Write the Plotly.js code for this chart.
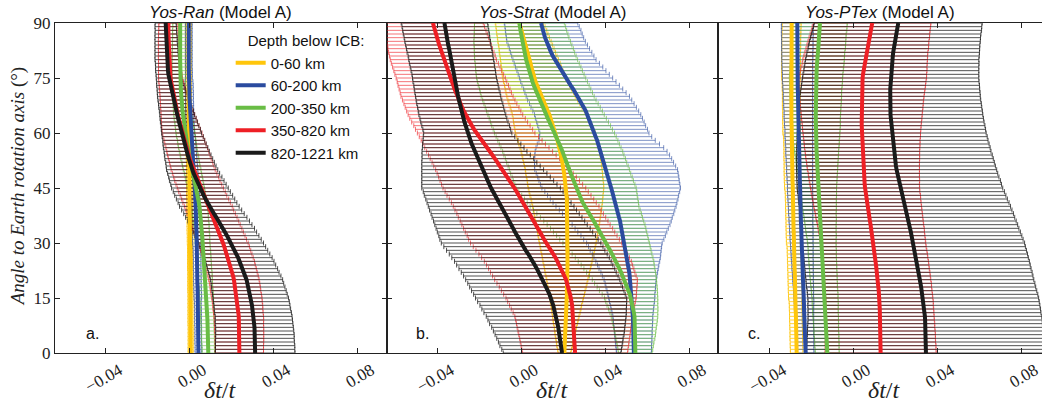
<!DOCTYPE html>
<html>
<head>
<meta charset="utf-8">
<script src="https://cdn.plot.ly/plotly-3.0.1.min.js"></script>
<style>html,body{margin:0;padding:0;background:#fff}#chart{width:1042px;height:410px}</style>
</head>
<body>
<div id="chart"></div>
<script>
// Angle to Earth rotation axis (degrees)
const angles = [0,1,2,3,4,5,6,7,8,9,10,11,12,13,14,15,16,17,18,19,20,21,22,23,24,25,26,27,28,29,30,31,32,33,34,35,36,37,38,39,40,41,42,43,44,45,46,47,48,49,50,51,52,53,54,55,56,57,58,59,60,61,62,63,64,65,66,67,68,69,70,71,72,73,74,75,76,77,78,79,80,81,82,83,84,85,86,87,88,89,90];

const depthGroups = ['0-60 km','60-200 km','200-350 km','350-820 km','820-1221 km'];
const panelTitles = ['<i>Yos-Ran</i> (Model A)','<i>Yos-Strat</i> (Model A)','<i>Yos-PTex</i> (Model A)'];
const panelLetters = ['a.','b.','c.'];
const xTickVals = [-0.04, 0, 0.04, 0.08];
const xTickText = ['\u22120.04','0.00','0.04','0.08'];
const yTickVals = [0,15,30,45,60,75,90];

// ---------- Yos-Ran (panel a): mean dt/t ----------
const ranMean0_60 = [.0006,.0006,.0006,.0006,.0006,.0006,.0006,.0006,.0005,.0005,
.0005,.0005,.0005,.0005,.0005,.0005,.0005,.0004,.0004,.0004,
.0004,.0004,.0004,.0003,.0003,.0003,.0003,.0003,.0003,.0003,
.0003,.0003,.0003,.0002,.0002,.0002,.0002,.0002,.0001,.0001,
.0001,.0001,.0001,0,0,0,0,0,-.0001,-.0001,
-.0001,-.0001,-.0001,-.0002,-.0002,-.0002,-.0002,-.0002,-.0003,-.0003,
-.0003,-.0003,-.0003,-.0003,-.0003,-.0003,-.0003,-.0003,-.0004,-.0004,
-.0004,-.0004,-.0004,-.0005,-.0005,-.0005,-.0005,-.0005,-.0005,-.0005,
-.0005,-.0005,-.0005,-.0005,-.0005,-.0005,-.0005,-.0005,-.0005,-.0005,-.0005];
const ranMean60_200 = [.0043,.0043,.0043,.0042,.0042,.0042,.0042,.0042,.0041,.0041,
.0041,.0041,.0041,.0040,.0040,.0040,.0040,.0039,.0039,.0038,
.0038,.0038,.0038,.0037,.0037,.0037,.0037,.0036,.0036,.0035,
.0035,.0035,.0034,.0034,.0033,.0033,.0032,.0032,.0031,.0031,
.0030,.0029,.0028,.0028,.0027,.0026,.0025,.0023,.0022,.0020,
.0019,.0018,.0016,.0015,.0013,.0012,.0011,.0010,.0008,.0007,
.0006,.0005,.0004,.0003,.0002,.0002,.0002,.0001,.0001,0,
0,0,-.0001,-.0001,-.0002,-.0002,-.0002,-.0002,-.0003,-.0003,
-.0003,-.0003,-.0003,-.0003,-.0003,-.0003,-.0003,-.0003,-.0003,-.0003,-.0003];
const ranMean200_350 = [.0090,.0090,.0089,.0089,.0088,.0088,.0087,.0087,.0086,.0086,
.0085,.0084,.0084,.0083,.0083,.0082,.0081,.0080,.0078,.0077,
.0076,.0075,.0074,.0072,.0071,.0070,.0069,.0067,.0066,.0064,
.0063,.0062,.0061,.0059,.0058,.0057,.0055,.0053,.0052,.0050,
.0048,.0045,.0042,.0038,.0035,.0032,.0028,.0024,.0021,.0017,
.0013,.0009,.0006,.0002,-.0001,-.0005,-.0008,-.0011,-.0013,-.0016,
-.0019,-.0021,-.0024,-.0026,-.0029,-.0031,-.0033,-.0034,-.0036,-.0037,
-.0039,-.0040,-.0041,-.0041,-.0042,-.0043,-.0043,-.0043,-.0044,-.0044,
-.0044,-.0044,-.0044,-.0044,-.0044,-.0044,-.0044,-.0044,-.0044,-.0044,-.0044];
const ranMean350_820 = [.0238,.0238,.0238,.0238,.0238,.0238,.0237,.0237,.0236,.0236,
.0235,.0233,.0231,.0230,.0228,.0226,.0223,.0220,.0218,.0215,
.0212,.0208,.0203,.0199,.0194,.0190,.0184,.0178,.0172,.0166,
.0160,.0153,.0146,.0139,.0132,.0125,.0118,.0111,.0104,.0097,
.0090,.0082,.0075,.0067,.0060,.0052,.0045,.0038,.0032,.0025,
.0018,.0013,.0008,.0002,-.0003,-.0008,-.0013,-.0019,-.0024,-.0030,
-.0035,-.0039,-.0043,-.0047,-.0051,-.0055,-.0059,-.0063,-.0067,-.0071,
-.0075,-.0078,-.0081,-.0084,-.0087,-.0090,-.0091,-.0093,-.0094,-.0096,
-.0097,-.0098,-.0098,-.0099,-.0099,-.0100,-.0100,-.0100,-.0100,-.0100,-.0100];
const ranMean820_1221 = [.0313,.0313,.0313,.0312,.0312,.0312,.0311,.0310,.0308,.0307,
.0306,.0303,.0300,.0298,.0295,.0292,.0288,.0284,.0280,.0276,
.0272,.0266,.0259,.0253,.0246,.0240,.0232,.0223,.0215,.0206,
.0198,.0188,.0179,.0169,.0160,.0150,.0139,.0128,.0117,.0106,
.0095,.0086,.0077,.0068,.0059,.0050,.0043,.0035,.0028,.0020,
.0013,.0008,.0003,-.0003,-.0008,-.0013,-.0018,-.0023,-.0027,-.0032,
-.0037,-.0041,-.0045,-.0050,-.0054,-.0058,-.0062,-.0067,-.0071,-.0076,
-.0080,-.0084,-.0087,-.0091,-.0094,-.0098,-.0100,-.0102,-.0103,-.0105,
-.0107,-.0108,-.0109,-.0109,-.0110,-.0111,-.0111,-.0112,-.0112,-.0113,-.0113];

// ---------- Yos-Ran (panel a): standard deviation ----------
const ranStd0_60 = [.0012,.0012,.0012,.0012,.0012,.0012,.0012,.0012,.0012,.0012,
.0012,.0012,.0012,.0012,.0012,.0012,.0012,.0012,.0012,.0012,
.0012,.0012,.0012,.0012,.0012,.0012,.0012,.0012,.0012,.0012,
.0013,.0013,.0013,.0013,.0013,.0013,.0013,.0013,.0013,.0013,
.0013,.0013,.0013,.0013,.0013,.0013,.0013,.0013,.0013,.0013,
.0013,.0013,.0013,.0013,.0013,.0013,.0013,.0013,.0013,.0013,
.0014,.0014,.0014,.0014,.0014,.0014,.0014,.0014,.0014,.0014,
.0014,.0014,.0014,.0014,.0014,.0014,.0014,.0014,.0014,.0014,
.0014,.0014,.0014,.0014,.0014,.0014,.0014,.0014,.0014,.0014,.0014];
const ranStd60_200 = [.0016,.0016,.0016,.0016,.0016,.0016,.0016,.0016,.0016,.0016,
.0016,.0016,.0016,.0016,.0016,.0018,.0018,.0018,.0018,.0018,
.0018,.0018,.0018,.0018,.0018,.0018,.0018,.0018,.0018,.0018,
.0021,.0021,.0021,.0021,.0021,.0021,.0021,.0021,.0021,.0021,
.0021,.0021,.0021,.0021,.0021,.0021,.0021,.0021,.0021,.0021,
.0021,.0021,.0021,.0021,.0021,.0021,.0021,.0021,.0021,.0021,
.0019,.0019,.0019,.0019,.0019,.0019,.0019,.0019,.0019,.0019,
.0019,.0019,.0019,.0019,.0019,.0016,.0016,.0016,.0016,.0016,
.0016,.0016,.0016,.0016,.0016,.0016,.0016,.0016,.0016,.0016,.0016];
const ranStd200_350 = [.0030,.0030,.0030,.0031,.0031,.0031,.0031,.0031,.0031,.0032,
.0032,.0032,.0032,.0032,.0032,.0033,.0033,.0033,.0033,.0033,
.0033,.0034,.0034,.0034,.0034,.0034,.0034,.0035,.0035,.0035,
.0035,.0035,.0036,.0036,.0036,.0037,.0037,.0037,.0038,.0038,
.0038,.0039,.0039,.0039,.0040,.0040,.0040,.0041,.0041,.0041,
.0042,.0042,.0042,.0043,.0043,.0043,.0044,.0044,.0044,.0045,
.0045,.0045,.0044,.0044,.0044,.0043,.0043,.0043,.0042,.0042,
.0042,.0041,.0041,.0041,.0040,.0040,.0040,.0039,.0039,.0039,
.0038,.0038,.0038,.0037,.0037,.0037,.0036,.0036,.0036,.0035,.0035];
const ranStd350_820 = [.0115,.0115,.0115,.0116,.0116,.0116,.0117,.0117,.0117,.0118,
.0118,.0118,.0119,.0119,.0119,.0120,.0120,.0120,.0120,.0120,
.0120,.0120,.0120,.0120,.0120,.0120,.0120,.0120,.0120,.0120,
.0120,.0119,.0119,.0118,.0118,.0117,.0117,.0116,.0115,.0114,
.0114,.0113,.0112,.0111,.0111,.0110,.0109,.0108,.0107,.0106,
.0105,.0104,.0103,.0102,.0101,.0100,.0099,.0098,.0097,.0096,
.0095,.0092,.0089,.0086,.0083,.0080,.0077,.0074,.0071,.0068,
.0065,.0063,.0062,.0060,.0059,.0057,.0056,.0054,.0053,.0051,
.0050,.0050,.0049,.0049,.0048,.0048,.0047,.0047,.0046,.0046,.0045];
const ranStd820_1221 = [.0190,.0189,.0189,.0188,.0187,.0187,.0186,.0185,.0185,.0184,
.0183,.0183,.0182,.0181,.0181,.0180,.0178,.0177,.0175,.0173,
.0172,.0170,.0168,.0167,.0165,.0163,.0162,.0160,.0158,.0157,
.0155,.0154,.0152,.0151,.0150,.0148,.0147,.0146,.0144,.0143,
.0142,.0140,.0139,.0138,.0136,.0135,.0132,.0130,.0127,.0124,
.0122,.0119,.0116,.0114,.0111,.0108,.0106,.0103,.0100,.0098,
.0095,.0093,.0090,.0088,.0086,.0083,.0081,.0079,.0076,.0074,
.0072,.0069,.0067,.0065,.0062,.0060,.0059,.0059,.0058,.0057,
.0057,.0056,.0055,.0055,.0054,.0053,.0053,.0052,.0051,.0051,.0050];

// ---------- Yos-Strat (panel b): mean dt/t ----------
const stratMean0_60 = [.0206,.0207,.0207,.0208,.0208,.0209,.0210,.0211,.0211,.0212,
.0213,.0214,.0215,.0215,.0216,.0217,.0218,.0218,.0219,.0219,
.0220,.0220,.0220,.0221,.0221,.0221,.0221,.0222,.0222,.0222,
.0222,.0222,.0222,.0222,.0222,.0222,.0222,.0221,.0221,.0220,
.0220,.0219,.0218,.0216,.0215,.0214,.0212,.0210,.0207,.0205,
.0203,.0200,.0197,.0193,.0190,.0187,.0182,.0177,.0173,.0168,
.0163,.0157,.0152,.0146,.0141,.0135,.0127,.0119,.0111,.0103,
.0095,.0089,.0082,.0076,.0069,.0063,.0058,.0054,.0049,.0045,
.0040,.0035,.0030,.0026,.0021,.0016,.0011,.0006,.0002,-.0003,-.0008];
const stratMean60_200 = [.0537,.0537,.0536,.0536,.0535,.0535,.0534,.0534,.0533,.0533,
.0532,.0531,.0530,.0529,.0528,.0527,.0525,.0524,.0522,.0521,
.0519,.0517,.0515,.0512,.0510,.0508,.0505,.0502,.0498,.0495,
.0492,.0489,.0486,.0482,.0479,.0476,.0471,.0466,.0462,.0457,
.0452,.0447,.0443,.0438,.0434,.0429,.0424,.0419,.0415,.0410,
.0405,.0400,.0395,.0391,.0386,.0381,.0375,.0368,.0362,.0355,
.0349,.0343,.0336,.0330,.0323,.0317,.0308,.0298,.0289,.0279,
.0270,.0259,.0248,.0236,.0225,.0214,.0203,.0192,.0181,.0170,
.0159,.0151,.0143,.0135,.0127,.0119,.0114,.0109,.0105,.0100,.0095];
const stratMean200_350 = [.0544,.0544,.0544,.0544,.0544,.0544,.0543,.0542,.0542,.0541,
.0540,.0537,.0534,.0530,.0527,.0524,.0518,.0511,.0505,.0498,
.0492,.0484,.0476,.0468,.0460,.0452,.0443,.0433,.0424,.0414,
.0405,.0395,.0386,.0376,.0367,.0357,.0346,.0335,.0324,.0313,
.0302,.0294,.0286,.0278,.0270,.0262,.0256,.0249,.0243,.0236,
.0230,.0224,.0217,.0211,.0204,.0198,.0190,.0182,.0175,.0167,
.0159,.0151,.0143,.0135,.0127,.0119,.0111,.0103,.0095,.0087,
.0079,.0073,.0067,.0060,.0054,.0048,.0043,.0038,.0034,.0029,
.0024,.0020,.0016,.0013,.0009,.0005,.0002,0,-.0003,-.0005,-.0008];
const stratMean350_820 = [.0257,.0256,.0256,.0255,.0255,.0254,.0253,.0252,.0252,.0251,
.0250,.0248,.0245,.0243,.0240,.0238,.0233,.0228,.0224,.0219,
.0214,.0206,.0198,.0191,.0183,.0175,.0164,.0153,.0141,.0130,
.0119,.0109,.0100,.0090,.0081,.0071,.0062,.0052,.0043,.0033,
.0024,.0013,.0002,-.0010,-.0021,-.0032,-.0043,-.0054,-.0065,-.0076,
-.0087,-.0100,-.0112,-.0125,-.0137,-.0150,-.0163,-.0176,-.0188,-.0201,
-.0214,-.0224,-.0234,-.0245,-.0255,-.0265,-.0273,-.0281,-.0289,-.0297,
-.0305,-.0311,-.0317,-.0323,-.0329,-.0335,-.0342,-.0349,-.0356,-.0363,
-.0370,-.0375,-.0380,-.0385,-.0390,-.0395,-.0400,-.0405,-.0410,-.0415,-.0420];
const stratMean820_1221 = [.0195,.0193,.0190,.0188,.0185,.0183,.0180,.0177,.0173,.0170,
.0167,.0162,.0157,.0153,.0148,.0143,.0135,.0127,.0119,.0111,
.0103,.0094,.0084,.0075,.0065,.0056,.0045,.0034,.0022,.0011,
0,-.0010,-.0019,-.0029,-.0038,-.0048,-.0057,-.0067,-.0076,-.0086,
-.0095,-.0105,-.0114,-.0124,-.0133,-.0143,-.0151,-.0159,-.0167,-.0175,
-.0183,-.0191,-.0199,-.0206,-.0214,-.0222,-.0228,-.0235,-.0241,-.0248,
-.0254,-.0259,-.0264,-.0270,-.0275,-.0280,-.0284,-.0288,-.0292,-.0296,
-.0300,-.0303,-.0307,-.0310,-.0314,-.0317,-.0320,-.0323,-.0327,-.0330,
-.0333,-.0336,-.0340,-.0343,-.0347,-.0350,-.0353,-.0356,-.0359,-.0362,-.0365];

// ---------- Yos-Strat (panel b): standard deviation ----------
const stratStd0_60 = [.0030,.0033,.0037,.0040,.0043,.0047,.0050,.0053,.0057,.0060,
.0063,.0067,.0070,.0073,.0077,.0080,.0084,.0087,.0091,.0095,
.0098,.0102,.0106,.0109,.0113,.0117,.0120,.0124,.0128,.0131,
.0135,.0138,.0141,.0144,.0147,.0150,.0153,.0156,.0159,.0162,
.0165,.0168,.0171,.0174,.0177,.0180,.0181,.0181,.0182,.0183,
.0183,.0184,.0185,.0185,.0186,.0187,.0187,.0188,.0189,.0189,
.0190,.0187,.0185,.0182,.0179,.0177,.0174,.0171,.0169,.0166,
.0163,.0161,.0158,.0155,.0153,.0150,.0148,.0145,.0143,.0141,
.0138,.0136,.0134,.0131,.0129,.0127,.0124,.0122,.0120,.0117,.0115];
const stratStd60_200 = [.0083,.0084,.0085,.0087,.0088,.0089,.0090,.0091,.0093,.0094,
.0095,.0098,.0101,.0104,.0107,.0110,.0112,.0115,.0118,.0121,
.0124,.0130,.0135,.0141,.0146,.0152,.0158,.0163,.0169,.0174,
.0180,.0191,.0201,.0212,.0222,.0233,.0244,.0254,.0265,.0275,
.0286,.0295,.0304,.0312,.0321,.0330,.0332,.0334,.0336,.0338,
.0340,.0336,.0331,.0326,.0321,.0314,.0304,.0291,.0277,.0267,
.0260,.0259,.0257,.0256,.0255,.0253,.0252,.0251,.0249,.0248,
.0246,.0241,.0236,.0232,.0227,.0222,.0217,.0212,.0208,.0203,
.0198,.0196,.0194,.0191,.0189,.0187,.0184,.0182,.0180,.0177,.0175];
const stratStd200_350 = [.0080,.0083,.0086,.0089,.0093,.0096,.0099,.0102,.0105,.0108,
.0111,.0114,.0118,.0121,.0124,.0127,.0132,.0138,.0143,.0148,
.0153,.0159,.0164,.0169,.0174,.0180,.0185,.0190,.0195,.0201,
.0206,.0211,.0217,.0222,.0227,.0233,.0238,.0243,.0249,.0254,
.0259,.0265,.0270,.0275,.0281,.0286,.0286,.0286,.0286,.0286,
.0286,.0286,.0286,.0286,.0286,.0286,.0286,.0286,.0286,.0286,
.0286,.0284,.0283,.0281,.0279,.0277,.0276,.0274,.0272,.0270,
.0269,.0267,.0265,.0264,.0262,.0260,.0257,.0254,.0251,.0248,
.0245,.0242,.0239,.0236,.0233,.0230,.0226,.0223,.0220,.0217,.0214];
const stratStd350_820 = [.0250,.0253,.0256,.0259,.0262,.0265,.0268,.0271,.0274,.0277,
.0280,.0286,.0292,.0298,.0304,.0310,.0316,.0322,.0328,.0334,
.0340,.0342,.0344,.0346,.0348,.0350,.0352,.0354,.0356,.0358,
.0360,.0359,.0357,.0356,.0355,.0353,.0352,.0351,.0349,.0348,
.0347,.0345,.0344,.0343,.0341,.0340,.0336,.0332,.0328,.0324,
.0320,.0316,.0312,.0308,.0304,.0300,.0296,.0292,.0288,.0284,
.0280,.0279,.0277,.0276,.0275,.0273,.0272,.0271,.0269,.0268,
.0267,.0265,.0264,.0263,.0261,.0260,.0259,.0257,.0256,.0255,
.0253,.0252,.0251,.0249,.0248,.0247,.0245,.0244,.0243,.0241,.0240];
const stratStd820_1221 = [.0280,.0285,.0291,.0296,.0301,.0307,.0312,.0317,.0323,.0328,
.0333,.0339,.0344,.0349,.0355,.0360,.0361,.0363,.0364,.0365,
.0367,.0368,.0369,.0371,.0372,.0373,.0375,.0376,.0377,.0379,
.0380,.0377,.0373,.0370,.0367,.0363,.0360,.0357,.0353,.0350,
.0347,.0343,.0340,.0337,.0333,.0330,.0322,.0314,.0306,.0298,
.0290,.0282,.0274,.0266,.0258,.0250,.0242,.0234,.0226,.0218,
.0210,.0209,.0209,.0208,.0207,.0207,.0206,.0205,.0205,.0204,
.0203,.0203,.0202,.0201,.0201,.0200,.0200,.0201,.0201,.0202,
.0202,.0202,.0203,.0203,.0203,.0204,.0204,.0205,.0205,.0205,.0206];

// ---------- Yos-PTex (panel c): mean dt/t ----------
const ptexMean0_60 = [-.0270,-.0270,-.0271,-.0271,-.0272,-.0272,-.0272,-.0273,-.0273,-.0274,
-.0274,-.0274,-.0275,-.0275,-.0276,-.0276,-.0276,-.0277,-.0277,-.0278,
-.0278,-.0279,-.0279,-.0280,-.0280,-.0281,-.0281,-.0282,-.0282,-.0283,
-.0283,-.0283,-.0284,-.0284,-.0285,-.0285,-.0285,-.0286,-.0286,-.0287,
-.0287,-.0287,-.0288,-.0288,-.0289,-.0289,-.0289,-.0290,-.0290,-.0291,
-.0291,-.0291,-.0291,-.0292,-.0292,-.0292,-.0292,-.0293,-.0293,-.0294,
-.0294,-.0294,-.0294,-.0295,-.0295,-.0295,-.0295,-.0296,-.0296,-.0296,
-.0296,-.0296,-.0297,-.0297,-.0297,-.0297,-.0297,-.0297,-.0297,-.0297,
-.0297,-.0297,-.0297,-.0296,-.0296,-.0296,-.0296,-.0295,-.0295,-.0294,-.0294];
const ptexMean60_200 = [-.0227,-.0228,-.0229,-.0229,-.0230,-.0231,-.0231,-.0232,-.0233,-.0233,
-.0234,-.0234,-.0235,-.0235,-.0235,-.0236,-.0237,-.0237,-.0238,-.0239,
-.0240,-.0240,-.0241,-.0242,-.0242,-.0243,-.0244,-.0244,-.0245,-.0245,
-.0246,-.0247,-.0247,-.0248,-.0248,-.0249,-.0250,-.0250,-.0251,-.0251,
-.0252,-.0252,-.0253,-.0253,-.0254,-.0254,-.0254,-.0255,-.0255,-.0256,
-.0256,-.0256,-.0257,-.0257,-.0258,-.0258,-.0258,-.0259,-.0259,-.0260,
-.0260,-.0260,-.0261,-.0261,-.0262,-.0262,-.0262,-.0263,-.0263,-.0264,
-.0264,-.0264,-.0265,-.0265,-.0266,-.0266,-.0266,-.0266,-.0267,-.0267,
-.0267,-.0267,-.0267,-.0267,-.0267,-.0267,-.0267,-.0267,-.0267,-.0267,-.0267];
const ptexMean200_350 = [-.0124,-.0125,-.0126,-.0126,-.0127,-.0128,-.0129,-.0130,-.0130,-.0131,
-.0132,-.0133,-.0133,-.0134,-.0134,-.0135,-.0136,-.0137,-.0139,-.0140,
-.0141,-.0142,-.0143,-.0144,-.0145,-.0146,-.0147,-.0148,-.0148,-.0149,
-.0150,-.0151,-.0152,-.0154,-.0155,-.0156,-.0157,-.0158,-.0160,-.0161,
-.0162,-.0163,-.0164,-.0165,-.0166,-.0167,-.0168,-.0169,-.0169,-.0170,
-.0171,-.0172,-.0173,-.0173,-.0174,-.0175,-.0176,-.0176,-.0177,-.0177,
-.0178,-.0178,-.0178,-.0179,-.0179,-.0179,-.0179,-.0179,-.0179,-.0179,
-.0179,-.0179,-.0179,-.0178,-.0178,-.0178,-.0177,-.0175,-.0174,-.0172,
-.0171,-.0170,-.0169,-.0167,-.0166,-.0165,-.0164,-.0163,-.0161,-.0160,-.0159];
const ptexMean350_820 = [.0130,.0130,.0130,.0129,.0129,.0129,.0129,.0128,.0128,.0127,
.0127,.0126,.0126,.0125,.0125,.0124,.0122,.0121,.0119,.0118,
.0116,.0114,.0112,.0110,.0108,.0106,.0104,.0102,.0099,.0097,
.0095,.0092,.0090,.0087,.0085,.0082,.0079,.0076,.0074,.0071,
.0068,.0066,.0063,.0061,.0058,.0056,.0054,.0053,.0051,.0050,
.0048,.0047,.0046,.0045,.0044,.0043,.0042,.0042,.0041,.0041,
.0040,.0040,.0040,.0040,.0040,.0040,.0040,.0040,.0040,.0040,
.0040,.0041,.0042,.0042,.0043,.0044,.0046,.0049,.0051,.0054,
.0056,.0059,.0062,.0066,.0069,.0072,.0076,.0079,.0083,.0086,.0090];
const ptexMean820_1221 = [.0346,.0346,.0345,.0345,.0344,.0344,.0343,.0343,.0342,.0342,
.0341,.0339,.0338,.0336,.0335,.0333,.0330,.0327,.0323,.0320,
.0317,.0314,.0311,.0308,.0305,.0302,.0299,.0296,.0292,.0289,
.0286,.0282,.0278,.0274,.0270,.0266,.0262,.0258,.0254,.0250,
.0246,.0241,.0236,.0232,.0227,.0222,.0219,.0216,.0212,.0209,
.0206,.0203,.0201,.0198,.0196,.0193,.0191,.0189,.0187,.0185,
.0183,.0182,.0181,.0179,.0178,.0177,.0177,.0176,.0176,.0175,
.0175,.0176,.0176,.0177,.0177,.0178,.0179,.0181,.0182,.0184,
.0185,.0188,.0190,.0193,.0195,.0198,.0201,.0204,.0208,.0211,.0214];

// ---------- Yos-PTex (panel c): standard deviation ----------
const ptexStd0_60 = [.0030,.0030,.0030,.0030,.0030,.0030,.0030,.0030,.0030,.0030,
.0030,.0030,.0030,.0030,.0030,.0033,.0033,.0033,.0033,.0033,
.0033,.0033,.0033,.0033,.0033,.0033,.0033,.0033,.0033,.0033,
.0036,.0036,.0036,.0036,.0036,.0036,.0036,.0036,.0036,.0036,
.0036,.0036,.0036,.0036,.0036,.0039,.0039,.0039,.0039,.0039,
.0039,.0039,.0039,.0039,.0039,.0039,.0039,.0039,.0039,.0039,
.0042,.0042,.0042,.0042,.0042,.0042,.0042,.0042,.0042,.0042,
.0042,.0042,.0042,.0042,.0042,.0045,.0045,.0045,.0045,.0045,
.0045,.0045,.0045,.0045,.0045,.0045,.0045,.0045,.0045,.0045,.0045];
const ptexStd60_200 = [.0040,.0040,.0041,.0041,.0042,.0042,.0043,.0043,.0044,.0044,
.0045,.0045,.0046,.0046,.0047,.0047,.0047,.0048,.0048,.0049,
.0049,.0050,.0050,.0051,.0051,.0052,.0052,.0053,.0053,.0054,
.0054,.0055,.0055,.0056,.0056,.0056,.0057,.0057,.0058,.0058,
.0058,.0059,.0059,.0060,.0060,.0060,.0060,.0061,.0061,.0062,
.0062,.0062,.0063,.0063,.0064,.0064,.0064,.0065,.0065,.0066,
.0066,.0066,.0067,.0067,.0068,.0068,.0068,.0069,.0069,.0070,
.0070,.0070,.0071,.0071,.0072,.0072,.0072,.0073,.0073,.0073,
.0074,.0074,.0074,.0075,.0075,.0075,.0075,.0076,.0076,.0076,.0076];
const ptexStd200_350 = [.0057,.0057,.0058,.0058,.0058,.0059,.0059,.0059,.0060,.0060,
.0061,.0061,.0061,.0062,.0062,.0062,.0063,.0063,.0063,.0064,
.0064,.0065,.0065,.0065,.0066,.0066,.0066,.0067,.0067,.0067,
.0068,.0069,.0071,.0072,.0073,.0074,.0076,.0077,.0078,.0080,
.0081,.0082,.0083,.0085,.0086,.0087,.0089,.0091,.0092,.0094,
.0096,.0098,.0100,.0101,.0103,.0105,.0107,.0109,.0110,.0112,
.0114,.0115,.0116,.0117,.0117,.0118,.0119,.0120,.0121,.0122,
.0123,.0123,.0124,.0125,.0126,.0127,.0127,.0127,.0128,.0128,
.0128,.0128,.0128,.0129,.0129,.0129,.0129,.0129,.0130,.0130,.0130];
const ptexStd350_820 = [.0265,.0264,.0264,.0263,.0262,.0262,.0261,.0260,.0260,.0259,
.0258,.0258,.0257,.0256,.0256,.0255,.0255,.0254,.0254,.0254,
.0253,.0253,.0253,.0252,.0252,.0252,.0251,.0251,.0251,.0250,
.0250,.0251,.0251,.0252,.0253,.0253,.0254,.0255,.0255,.0256,
.0257,.0257,.0258,.0259,.0259,.0260,.0261,.0263,.0264,.0265,
.0267,.0268,.0269,.0271,.0272,.0273,.0275,.0276,.0277,.0279,
.0280,.0282,.0283,.0285,.0287,.0288,.0290,.0292,.0293,.0295,
.0297,.0298,.0300,.0302,.0303,.0305,.0303,.0302,.0300,.0298,
.0297,.0295,.0293,.0292,.0290,.0288,.0287,.0285,.0283,.0282,.0280];
const ptexStd820_1221 = [.0570,.0569,.0567,.0566,.0565,.0563,.0562,.0561,.0559,.0558,
.0557,.0555,.0554,.0553,.0551,.0550,.0549,.0547,.0546,.0545,
.0543,.0542,.0541,.0539,.0538,.0537,.0535,.0534,.0533,.0531,
.0530,.0527,.0525,.0522,.0519,.0517,.0514,.0511,.0509,.0506,
.0503,.0501,.0498,.0495,.0493,.0490,.0487,.0485,.0482,.0479,
.0477,.0474,.0471,.0469,.0466,.0463,.0461,.0458,.0455,.0453,
.0450,.0448,.0446,.0444,.0442,.0440,.0438,.0436,.0434,.0432,
.0430,.0428,.0426,.0424,.0422,.0420,.0419,.0417,.0416,.0415,
.0413,.0412,.0411,.0409,.0408,.0407,.0405,.0404,.0403,.0401,.0400];

// ---------- styling ----------
const lineColors = ['#FFC60B','#2A4B9F','#69BD45','#EE1F25','#1A1A1A'];
const barColors  = ['rgba(255,198,11,0.8)','rgba(42,75,159,0.6)','rgba(105,189,69,0.65)','rgba(238,31,37,0.62)','rgba(15,15,15,0.72)'];

const panels = [
  {xa:'x',  ya:'y',  means:[ranMean0_60,ranMean60_200,ranMean200_350,ranMean350_820,ranMean820_1221],
   stds:[ranStd0_60,ranStd60_200,ranStd200_350,ranStd350_820,ranStd820_1221]},
  {xa:'x2', ya:'y2', means:[stratMean0_60,stratMean60_200,stratMean200_350,stratMean350_820,stratMean820_1221],
   stds:[stratStd0_60,stratStd60_200,stratStd200_350,stratStd350_820,stratStd820_1221]},
  {xa:'x3', ya:'y3', means:[ptexMean0_60,ptexMean60_200,ptexMean200_350,ptexMean350_820,ptexMean820_1221],
   stds:[ptexStd0_60,ptexStd60_200,ptexStd200_350,ptexStd350_820,ptexStd820_1221]}
];

const traces = [];
panels.forEach((p, pi) => {
  p.means.forEach((m, g) => {
    traces.push({
      type:'scatter', mode:'markers', x:m, y:angles, xaxis:p.xa, yaxis:p.ya,
      marker:{size:1, color:'rgba(0,0,0,0)'},
      error_x:{type:'data', array:p.stds[g], symmetric:true, visible:true,
               color:barColors[g], thickness:1, width:2.5},
      showlegend:false, hoverinfo:'skip'
    });
  });
});
panels.forEach((p, pi) => {
  p.means.forEach((m, g) => {
    traces.push({
      type:'scatter', mode:'lines', x:m, y:angles, xaxis:p.xa, yaxis:p.ya,
      line:{color:lineColors[g], width:4},
      name:depthGroups[g],
      showlegend: pi === 0, hoverinfo:'skip'
    });
  });
});

const axisLine = '#222';
const tickFont = {family:'Liberation Serif, serif', size:17, color:'#222'};
function xAxis(domain, range, anchor){
  return {domain, range, anchor, tickvals:xTickVals, ticktext:xTickText, tickangle:-30,
    ticklabelshift:14,
    ticks:'inside', ticklen:5, tickcolor:axisLine, showline:true, linecolor:axisLine, linewidth:1,
    mirror:'ticks', showgrid:false, zeroline:false, tickfont:tickFont, fixedrange:true};
}
function yAxis(anchor, showLabels, mirror){
  return {domain:[0,1], range:[0,90], anchor, tickvals:yTickVals, ticks:'inside', ticklen:5,
    tickcolor:axisLine, showline:true, linecolor:axisLine, linewidth:1, mirror:mirror,
    showgrid:false, zeroline:false, showticklabels:showLabels, tickfont:tickFont, fixedrange:true};
}

const dA = [0, 0.33607], dB = [0.33607, 0.67214], dC = [0.67214, 1];
const annotations = [];
const centers = [(dA[0]+dA[1])/2, (dB[0]+dB[1])/2, (dC[0]+dC[1])/2];
panelTitles.forEach((t,i)=>annotations.push({text:t, xref:'paper', yref:'paper', x:centers[i], y:1.031,
  xanchor:'center', yanchor:'middle', showarrow:false, font:{family:'Liberation Sans, Arial, sans-serif', size:17, color:'#111'}}));
const letterX = [0.0375, 0.3728, 0.7082];
panelLetters.forEach((t,i)=>annotations.push({text:t, xref:'paper', yref:'paper', x:letterX[i], y:0.06,
  xanchor:'center', yanchor:'middle', showarrow:false, font:{family:'Liberation Sans, Arial, sans-serif', size:16, color:'#111'}}));
const xTitleX = [centers[0], centers[1], (0.67214 + 0.67214 + 0.33607)/2];
xTitleX.forEach(x=>annotations.push({text:'<i>δt</i>/<i>t</i>', xref:'paper', yref:'paper', x:x, y:-0.112,
  xanchor:'center', yanchor:'middle', showarrow:false, font:{family:'Liberation Serif, serif', size:24, color:'#222'}}));
annotations.push({text:'<i>Angle to Earth rotation axis</i> (°)', xref:'paper', yref:'paper', x:-0.0375, y:0.505,
  xanchor:'center', yanchor:'middle', textangle:-90, showarrow:false, font:{family:'Liberation Serif, serif', size:19, color:'#222'}});

const layout = {
  width:1042, height:410, margin:{l:55, r:0, t:23, b:57},
  paper_bgcolor:'#fff', plot_bgcolor:'rgba(0,0,0,0)',
  showlegend:true,
  legend:{x:0.178, y:0.988, xanchor:'left', yanchor:'top', bgcolor:'rgba(0,0,0,0)', tracegroupgap:0,
    font:{family:'Liberation Sans, Arial, sans-serif', size:15, color:'#111'},
    title:{text:'\u2002\u2002Depth below ICB:', font:{family:'Liberation Sans, Arial, sans-serif', size:15, color:'#111'}}},
  xaxis: xAxis(dA, [-0.064, 0.09395], 'y'),
  xaxis2: xAxis(dB, [-0.064, 0.09395], 'y2'),
  xaxis3: xAxis(dC, [-0.0643, 0.0899], 'y3'),
  yaxis: yAxis('x', true, 'ticks'),
  yaxis2: yAxis('x2', false, 'ticks'),
  yaxis3: yAxis('x3', false, false),
  annotations, hovermode:false
};

Plotly.newPlot('chart', traces, layout, {staticPlot:true, displayModeBar:false});
</script>
</body>
</html>
